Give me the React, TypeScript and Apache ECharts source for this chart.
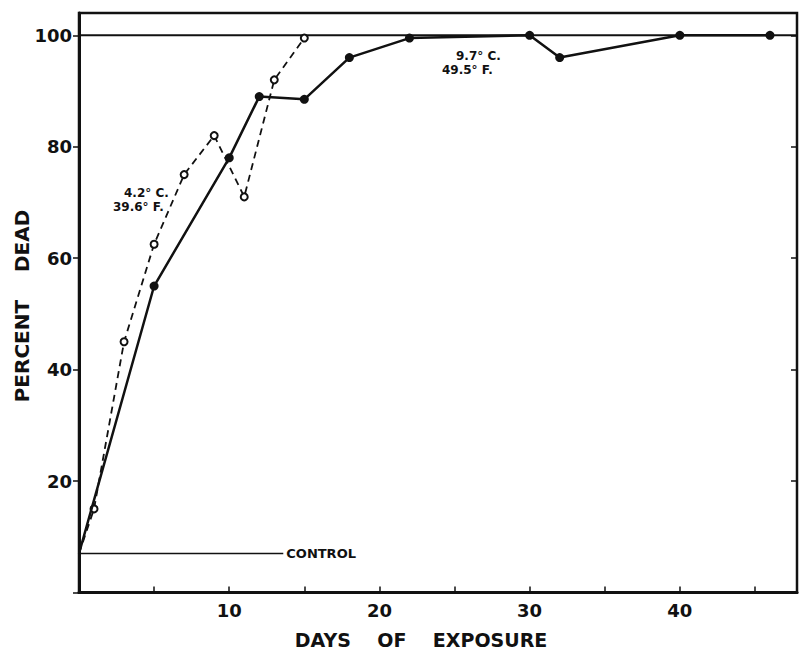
import React, { useEffect, useRef } from "react";
import * as echarts from "echarts";

const coldDays = [0, 1, 3, 5, 7, 9, 11, 13, 15];
const coldDead = [7, 15, 45, 62.5, 75, 82, 71, 92, 99.5];
const warmDays = [0, 5, 10, 12, 15, 18, 22, 30, 32, 40, 46];
const warmDead = [7, 55, 78, 89, 88.5, 96, 99.5, 100, 96, 100, 100];
const controlDays = [0, 13.6];
const controlDead = [7, 7];
const fullDays = [0, 47.8];
const fullDead = [100, 100];
const xTickLabels = [10, 20, 30, 40];
const yTickLabels = [20, 40, 60, 80, 100];

const FONT = "DejaVu Sans";
const INK = "#111";

export default function App() {
  const ref = useRef<HTMLDivElement>(null);
  useEffect(() => {
    if (!ref.current) return;
    const chart = echarts.init(ref.current, undefined, { renderer: "svg" });
    const pair = (xs: number[], ys: number[]) => xs.map((x, i) => [x, ys[i]]);
    const coldData = pair(coldDays, coldDead).map((p, i) =>
      i === 0 ? { value: p, symbol: "none" } : { value: p }
    );
    const warmData = pair(warmDays, warmDead).map((p, i) =>
      i === 0 ? { value: p, symbol: "none" } : { value: p }
    );
    chart.setOption({
      animation: false,
      backgroundColor: "#fff",
      grid: {
        left: 79,
        right: 2,
        top: 13,
        bottom: 60.5,
        show: true,
        borderColor: INK,
        borderWidth: 2.5,
      },
      xAxis: {
        type: "value",
        min: 0,
        max: 47.8,
        interval: 5,
        splitLine: { show: false },
        axisLine: { lineStyle: { color: INK, width: 3 } },
        axisTick: { inside: true, length: 6, lineStyle: { color: INK, width: 1.5 } },
        axisLabel: {
          color: INK,
          fontFamily: FONT,
          fontWeight: "bold",
          fontSize: 18,
          margin: 9,
          showMaxLabel: false,
          formatter: (v: number) => (xTickLabels.includes(v) ? String(v) : ""),
        },
      },
      yAxis: [
        {
          type: "value",
          min: 0,
          max: 104,
          interval: 20,
          splitLine: { show: false },
          axisLine: { lineStyle: { color: INK, width: 3 } },
          axisTick: { length: 6, lineStyle: { color: INK, width: 1.5 } },
          axisLabel: {
            color: INK,
            fontFamily: FONT,
            fontWeight: "bold",
            fontSize: 18,
            margin: 7,
            showMaxLabel: false,
            formatter: (v: number) => (yTickLabels.includes(v) ? String(v) : ""),
          },
        },
        {
          type: "value",
          position: "right",
          min: 0,
          max: 104,
          interval: 20,
          splitLine: { show: false },
          axisLine: { show: true, lineStyle: { color: INK, width: 2 } },
          axisTick: { inside: true, length: 6, lineStyle: { color: INK, width: 1.5 } },
          axisLabel: { show: false },
        },
      ],
      series: [
        {
          name: "100 line",
          type: "line",
          data: pair(fullDays, fullDead),
          symbol: "none",
          lineStyle: { color: INK, width: 2 },
          silent: true,
        },
        {
          name: "Control",
          type: "line",
          data: pair(controlDays, controlDead),
          symbol: "none",
          lineStyle: { color: INK, width: 1.5 },
          endLabel: {
            show: true,
            formatter: "CONTROL",
            color: INK,
            fontFamily: FONT,
            fontWeight: "bold",
            fontSize: 13,
            distance: 3,
          },
        },
        {
          name: "4.2° C.",
          type: "line",
          data: coldData,
          symbol: "emptyCircle",
          symbolSize: 7,
          itemStyle: { color: INK, borderColor: INK, borderWidth: 1.5 },
          lineStyle: { color: INK, width: 1.8, type: [7, 5] },
          z: 3,
        },
        {
          name: "9.7° C.",
          type: "line",
          data: warmData,
          symbol: "circle",
          symbolSize: 9,
          itemStyle: { color: INK },
          lineStyle: { color: INK, width: 2.5 },
          z: 4,
        },
      ],
      graphic: [
        {
          type: "text",
          x: 22,
          y: 306,
          rotation: Math.PI / 2,
          style: {
            text: "PERCENT    DEAD",
            font: `bold 20px "${FONT}"`,
            fill: INK,
            textAlign: "center",
            textVerticalAlign: "middle",
          },
        },
        {
          type: "text",
          x: 421,
          y: 640,
          style: {
            text: "DAYS    OF    EXPOSURE",
            font: `bold 19px "${FONT}"`,
            fill: INK,
            textAlign: "center",
            textVerticalAlign: "middle",
          },
        },
        {
          type: "text",
          x: 124,
          y: 193,
          style: { text: "4.2° C.", font: `bold 12px "${FONT}"`, fill: INK, textVerticalAlign: "middle" },
        },
        {
          type: "text",
          x: 113,
          y: 207,
          style: { text: "39.6° F.", font: `bold 12px "${FONT}"`, fill: INK, textVerticalAlign: "middle" },
        },
        {
          type: "text",
          x: 456,
          y: 56,
          style: { text: "9.7° C.", font: `bold 12px "${FONT}"`, fill: INK, textVerticalAlign: "middle" },
        },
        {
          type: "text",
          x: 442,
          y: 70,
          style: { text: "49.5° F.", font: `bold 12px "${FONT}"`, fill: INK, textVerticalAlign: "middle" },
        },
      ],
    });
    return () => chart.dispose();
  }, []);
  return <div ref={ref} style={{ width: 799, height: 653, position: "absolute", left: 0, top: 0 }} />;
}
